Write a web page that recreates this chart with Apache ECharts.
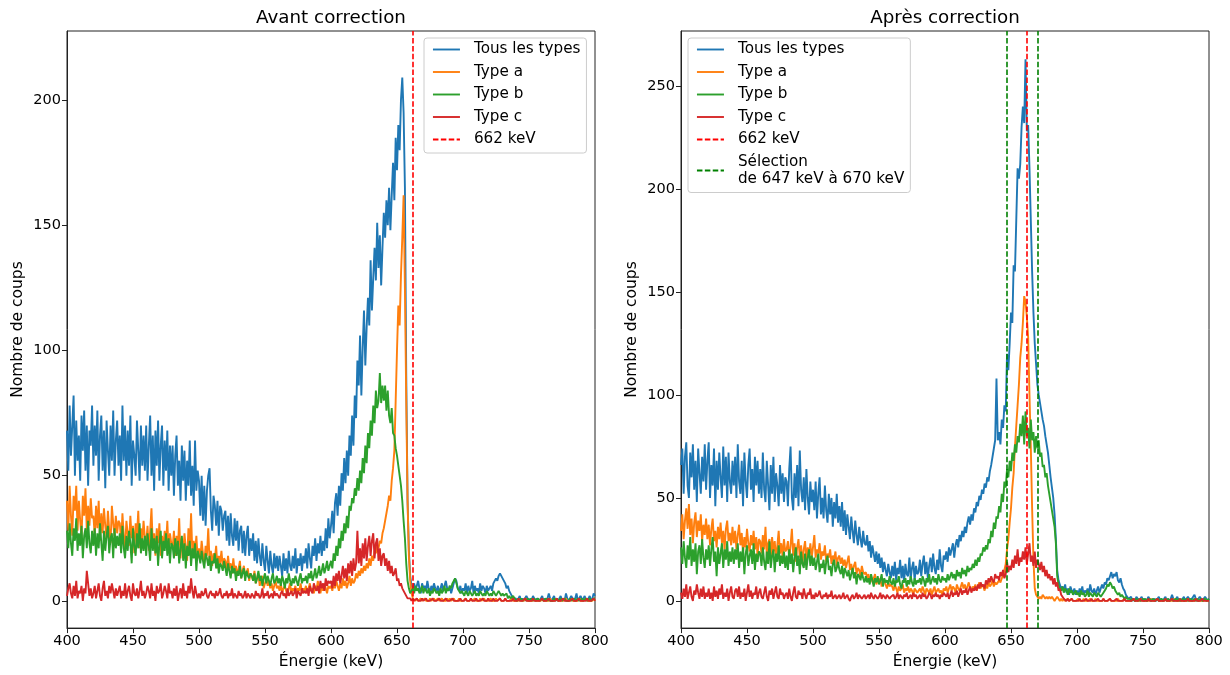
<!DOCTYPE html>
<html>
<head>
<meta charset="utf-8">
<script src="https://cdn.jsdelivr.net/npm/echarts@6/dist/echarts.min.js"></script>
<style>
html, body { margin: 0; padding: 0; background: #ffffff; }
#chart { width: 1230px; height: 675px; }
</style>
</head>
<body>
<div id="chart"></div>
<script>
// Spectra binned in 1 keV steps from 400 keV to 800 keV (401 bins per series)
const E_START = 400;
const E_END = 800;
const X_TICKS_STEP = 50;
const Y_TICKS_AVANT = [0, 50, 100, 150, 200];
const Y_TICKS_APRES = [0, 50, 100, 150, 200, 250];
const E_CS137 = 662;
const SELECTION = [647, 670];

// ---- Avant correction ----
const avantTous = [
  68,52,78,58,70,82,50,72,56,66,48,74,60,76,52,70,46,68,62,78,
  54,70,58,76,48,66,74,52,68,45,72,60,50,70,56,76,50,64,72,54,
  66,48,78,56,70,50,68,54,74,46,64,58,50,72,60,48,70,54,66,52,
  70,48,62,74,50,66,44,68,54,72,48,62,70,46,64,52,68,44,62,50,
  62,42,58,66,46,56,40,62,48,60,40,56,46,64,42,54,38,64,44,52,
  48,34,50,32,46,30,44,50,53,36,28,42,38,30,40,26,38,36,28,34,
  36,24,34,22,35,26,22,33,24,32,20,28,30,19,28,18,26,30,18,25,
  20,27,16,24,15,25,18,14,23,16,12,22,16,11,20,14,11,19,13,18,
  12,18,14,10,19,12,17,11,20,14,12,18,13,21,11,17,14,19,12,18,
  15,21,13,23,17,13,22,18,25,16,23,19,26,18,24,20,29,21,33,25,
  30,36,27,39,43,34,46,38,51,44,57,47,60,50,66,58,74,62,82,73,
  96,86,106,82,101,116,94,109,121,110,136,116,129,141,128,151,133,146,126,141,
  155,145,160,150,165,148,162,175,160,185,172,190,180,200,209,195,165,90,40,20,
  10,6,5,7,4,6,8,5,3,7,5,6,4,8,5,3,6,4,7,5,
  4,6,3,5,7,4,6,8,5,4,6,3,5,7,9,8,5,4,6,3,
  5,4,7,3,6,4,5,8,3,6,4,5,3,7,4,6,5,3,6,4,
  5,6,4,7,8,9,8,10,11,10,9,8,7,5,6,4,3,2,1,1,
  1,0,1,2,0,1,0,1,2,1,0,1,0,2,1,0,1,1,0,1,
  2,0,1,0,1,3,1,0,1,2,0,1,0,1,2,0,1,0,3,1,
  0,1,2,1,0,1,3,0,1,2,1,0,2,1,0,1,2,0,1,3,
  2
];
const avantTypeA = [
  40,28,46,34,26,42,36,46,28,40,32,25,42,34,45,28,38,30,41,33,
  34,26,38,29,40,24,35,27,37,30,25,36,28,23,38,31,26,34,27,32,
  31,23,35,26,21,32,27,22,34,25,30,19,31,26,36,21,29,24,32,25,
  23,30,20,28,37,22,27,18,29,23,31,18,26,21,28,22,32,19,27,23,
  21,28,18,26,20,33,17,25,19,27,21,16,29,20,35,18,24,19,26,17,
  21,17,24,19,15,22,18,29,16,20,14,19,17,22,13,18,15,20,14,17,
  16,12,18,13,15,11,17,12,14,10,13,16,9,12,14,10,11,13,8,11,
  10,8,12,7,9,11,6,8,10,5,7,9,6,8,5,7,4,6,8,5,
  6,4,7,3,5,6,4,2,5,7,3,5,4,6,3,5,4,7,3,5,
  4,6,3,5,7,4,5,3,6,4,8,5,3,6,4,7,5,3,6,5,
  6,4,7,5,8,6,4,7,5,9,6,8,5,7,10,6,9,7,8,11,
  9,12,10,13,11,14,12,15,13,17,14,18,16,20,19,22,21,24,23,27,
  29,32,35,38,42,40,48,53,60,80,100,118,110,130,145,162,125,80,40,18,
  8,3,1,1,0,1,0,0,1,0,0,1,0,0,0,1,0,0,1,0,
  0,1,0,0,1,0,0,0,1,0,1,0,0,1,0,0,0,1,0,0,
  0,0,1,0,0,0,1,0,0,1,0,0,0,1,0,0,1,0,0,0,
  0,1,0,0,0,1,0,0,1,0,0,0,1,0,0,0,0,1,0,0,
  0,0,0,1,0,0,0,0,1,0,0,0,0,0,1,0,0,0,0,0,
  1,0,0,0,0,0,1,0,0,0,0,1,0,0,0,0,0,0,1,0,
  0,0,1,0,0,0,0,0,1,0,0,0,0,1,0,0,0,0,0,1,
  0
];
const avantTypeB = [
  28,21,31,23,18,29,24,33,20,27,22,30,17,26,29,21,32,23,19,28,
  22,29,18,27,21,31,23,16,28,20,26,30,19,25,27,17,29,21,26,22,
  27,19,30,21,17,26,20,28,23,15,29,22,18,27,21,31,19,25,20,26,
  18,27,22,16,29,20,25,19,26,14,23,28,17,24,20,27,18,25,15,23,
  22,17,25,18,24,15,21,26,16,23,13,22,18,24,14,21,17,23,12,20,
  18,15,20,16,13,19,17,14,18,12,16,15,19,13,17,11,15,14,12,16,
  13,10,15,12,9,14,11,13,8,12,10,14,9,11,13,8,12,10,9,11,
  10,8,11,7,9,12,8,10,6,9,11,7,10,8,6,9,11,7,8,10,
  7,9,6,10,8,5,9,7,11,8,6,9,7,10,8,6,9,11,7,9,
  8,10,7,11,9,12,8,10,13,9,11,14,10,12,15,11,13,16,12,14,
  16,13,19,16,22,18,25,21,28,24,31,27,34,29,38,36,41,39,45,42,
  49,44,52,47,57,51,62,55,67,61,72,66,78,71,84,77,80,91,79,86,
  80,86,76,84,74,71,77,67,66,61,58,54,50,46,40,32,25,15,8,5,
  3,4,5,3,6,4,5,3,4,6,3,5,4,3,5,2,4,3,5,4,
  3,4,2,5,3,4,6,3,5,4,6,5,7,8,9,7,5,4,3,4,
  3,2,4,3,2,4,3,2,3,4,2,3,2,4,3,2,3,2,4,3,
  2,3,2,4,3,2,3,4,3,2,3,2,2,3,1,2,1,1,2,1,
  1,0,1,0,1,0,0,1,0,1,0,0,1,0,1,0,0,1,0,0,
  1,0,0,1,0,1,0,0,0,1,0,1,0,0,1,0,0,1,0,0,
  0,1,0,0,1,0,0,1,0,0,1,0,0,1,0,0,1,0,0,1,
  1
];
const avantTypeC = [
  2,5,7,3,1,6,2,8,1,4,3,6,0,5,3,12,7,2,5,1,
  3,6,1,4,7,2,0,5,8,2,4,1,6,3,7,4,1,5,2,4,
  6,1,4,2,7,1,4,6,2,0,7,3,2,5,1,4,8,2,4,1,
  3,6,4,1,7,2,4,0,6,3,4,7,1,3,6,4,1,7,3,4,
  1,5,2,6,0,3,5,1,7,2,4,1,6,3,9,4,1,6,3,1,
  3,1,4,2,3,5,2,1,3,4,2,3,1,4,2,3,5,2,1,3,
  2,4,1,3,2,5,1,3,2,1,4,2,3,1,2,4,1,3,2,1,
  3,2,1,4,2,3,1,2,5,1,3,2,4,1,2,3,1,4,2,3,
  2,1,3,4,2,3,1,5,2,3,4,2,3,5,1,4,3,2,5,3,
  4,3,5,2,6,4,3,7,5,4,6,3,8,5,7,4,9,6,8,7,
  8,5,10,6,11,8,12,7,10,14,9,13,8,15,11,16,10,17,12,15,
  28,15,21,14,23,17,25,16,22,26,18,24,27,17,23,25,16,21,14,18,
  19,14,17,12,16,11,14,10,11,13,8,9,6,7,5,4,3,2,1,1,
  1,0,1,0,0,1,0,0,0,1,0,0,1,0,0,0,0,1,0,0,
  0,0,1,0,0,0,0,1,0,0,0,0,1,0,0,0,0,0,1,0,
  0,0,1,0,0,0,1,0,0,0,1,0,0,0,0,1,0,0,0,1,
  0,0,0,1,0,0,0,0,1,0,0,0,1,0,0,0,0,0,1,0,
  0,0,1,0,0,0,0,1,0,0,0,0,0,1,0,0,0,0,0,0,
  1,0,0,0,0,1,0,0,0,0,0,1,0,0,0,0,1,0,0,0,
  0,0,0,1,0,0,0,0,1,0,0,0,0,0,1,0,0,0,0,1,
  0
];

// ---- Après correction ----
const apresTous = [
  66,74,52,70,77,56,50,72,60,76,54,68,48,74,62,52,70,58,76,54,
  68,77,50,66,56,74,46,68,54,72,60,50,75,56,70,48,72,58,52,68,
  56,70,50,76,58,52,68,46,72,58,50,66,74,54,64,48,70,56,68,52,
  64,50,72,54,48,68,56,44,66,52,70,48,62,56,46,66,52,62,48,60,
  58,46,64,75,50,44,62,50,66,46,73,54,48,60,44,64,50,42,58,48,
  54,44,58,40,52,60,42,50,40,56,44,38,52,42,50,36,48,40,52,38,
  46,36,48,34,44,32,42,36,30,41,34,28,39,32,27,36,30,26,34,28,
  27,32,24,29,21,27,23,19,24,18,23,16,21,14,19,15,12,18,14,11,
  17,12,19,10,16,13,20,11,17,9,18,13,12,21,11,16,19,10,17,13,
  14,20,12,18,22,13,19,11,17,21,14,23,16,13,20,15,25,17,14,22,
  20,24,19,26,22,25,28,21,27,30,26,32,29,34,31,36,33,38,41,37,
  42,39,45,43,48,46,51,49,54,52,57,55,60,58,63,66,70,74,78,108,
  78,82,76,88,84,95,92,120,112,125,140,135,163,160,185,210,205,212,230,240,
  232,263,228,231,210,185,160,140,125,115,105,100,96,92,88,85,80,76,72,66,
  60,55,50,42,30,15,10,8,6,7,5,8,4,6,3,7,5,4,6,3,
  5,3,6,4,7,3,5,4,6,3,8,5,4,6,3,5,7,4,6,8,
  6,9,8,11,10,12,14,11,13,12,14,10,9,11,8,6,5,3,2,1,
  1,2,0,1,0,2,1,0,1,2,0,1,1,0,2,1,0,1,0,1,
  0,1,2,0,1,0,1,2,0,1,0,1,3,1,0,1,2,0,1,0,
  1,2,0,1,2,1,0,1,2,3,1,0,1,2,1,0,1,2,1,0,
  1
];
const apresTypeA = [
  34,42,30,39,45,35,47,32,40,28,38,43,31,39,34,42,29,37,32,40,
  30,37,27,35,40,29,34,26,36,30,38,28,34,25,35,39,29,33,27,36,
  28,34,25,32,37,27,33,23,31,26,35,28,24,32,27,34,25,31,22,30,
  29,23,32,25,36,22,28,30,21,31,24,29,20,27,34,23,28,21,30,24,
  25,29,20,27,35,22,28,19,26,30,21,27,18,25,29,20,26,22,28,21,
  26,32,21,25,23,28,20,24,22,27,19,23,21,25,18,22,20,24,17,21,
  22,18,21,17,20,16,19,22,15,18,14,17,19,13,16,15,12,17,14,13,
  14,11,13,10,12,9,11,13,8,10,9,11,7,9,10,8,6,9,7,8,
  7,5,8,6,4,7,5,6,8,4,6,5,7,4,6,5,3,6,5,4,
  5,6,4,7,5,3,6,5,4,6,3,5,7,4,5,6,4,5,3,6,
  5,7,4,6,8,5,7,6,4,8,6,5,7,9,6,8,5,7,9,6,
  5,7,6,8,5,7,9,6,8,7,5,8,6,9,7,8,10,7,9,8,
  9,10,9,11,12,15,18,25,30,38,45,55,62,75,85,95,105,118,125,135,
  148,145,138,128,100,75,45,20,6,3,2,1,2,1,3,2,1,2,1,2,
  1,2,1,0,1,2,1,0,1,0,1,0,0,1,0,0,1,0,0,0,
  0,1,0,0,0,1,0,0,0,0,1,0,0,0,1,0,0,0,0,0,
  1,0,0,0,0,1,0,0,0,0,0,1,0,0,0,0,1,0,0,0,
  0,0,0,1,0,0,0,0,0,1,0,0,0,0,0,0,1,0,0,0,
  0,1,0,0,0,0,0,1,0,0,0,0,0,0,1,0,0,0,0,0,
  0,0,0,0,1,0,0,0,0,0,0,1,0,0,0,0,0,1,0,0,
  0
];
const apresTypeB = [
  26,18,29,21,16,27,20,31,17,25,19,28,13,24,27,18,30,21,16,25,
  20,27,17,25,31,19,24,12,26,18,23,28,16,25,20,29,17,24,19,26,
  18,25,20,28,16,24,19,26,13,23,27,17,22,25,18,28,15,23,19,24,
  23,17,26,19,15,24,18,29,16,22,25,14,23,19,27,17,22,18,24,16,
  22,15,25,18,23,14,21,26,17,22,13,24,18,16,23,15,21,25,17,22,
  17,21,15,19,23,14,18,16,20,13,19,22,15,17,12,18,20,14,16,19,
  15,13,17,11,16,14,12,15,10,13,16,11,14,8,13,12,10,14,11,9,
  12,9,11,8,13,10,7,11,9,12,8,10,13,7,11,9,10,8,12,9,
  8,11,7,10,9,12,8,6,10,9,11,7,10,8,12,9,7,11,8,10,
  9,11,8,12,10,7,11,9,13,8,10,12,9,11,8,13,10,9,12,10,
  11,9,13,10,12,14,11,13,10,15,12,14,11,16,13,15,12,17,14,16,
  15,18,16,20,17,21,19,23,22,26,24,27,25,30,28,34,31,38,35,41,
  40,46,43,52,48,58,55,64,60,68,63,72,68,76,72,80,77,86,80,90,
  76,92,80,84,74,88,78,82,72,80,74,78,70,72,65,66,60,62,56,52,
  48,44,40,36,28,12,8,6,5,7,4,6,5,3,6,4,5,3,4,5,
  3,4,2,5,3,4,2,3,5,2,4,3,2,4,3,2,4,3,2,3,
  4,5,6,8,7,9,8,6,7,5,4,3,4,2,3,2,1,2,1,1,
  1,0,1,1,0,1,0,1,0,0,1,0,1,0,0,1,0,0,1,0,
  0,1,0,0,1,0,0,1,0,1,0,0,1,0,0,1,0,1,0,0,
  1,0,0,1,0,0,1,0,0,1,0,1,0,0,1,0,0,1,0,0,
  1
];
const apresTypeC = [
  4,1,6,2,8,1,4,7,2,0,5,3,8,4,1,6,2,7,1,4,
  2,6,1,4,0,7,2,5,1,6,3,8,1,4,2,6,0,4,7,2,
  1,5,6,2,7,1,4,2,6,0,4,8,2,5,1,4,3,7,1,4,
  6,2,1,4,7,2,0,5,3,6,1,4,7,2,1,6,3,4,1,3,
  4,1,6,2,0,4,7,2,1,5,3,4,1,6,3,1,4,3,6,1,
  3,1,4,2,3,5,2,1,3,2,4,1,3,2,5,1,2,3,1,2,
  3,1,2,4,1,2,3,1,0,2,3,1,2,4,1,3,2,1,2,3,
  1,2,3,1,4,2,1,3,2,1,2,4,1,3,2,1,3,2,1,2,
  2,3,1,2,4,1,3,2,1,3,2,4,1,2,3,1,4,2,3,1,
  2,3,1,4,2,3,1,2,4,3,1,3,2,4,2,3,1,3,2,4,
  3,2,4,1,3,5,2,4,3,5,2,4,6,3,5,4,6,3,5,7,
  4,6,5,7,5,8,6,9,7,8,6,10,8,11,9,12,10,9,13,11,
  12,10,14,12,15,11,13,19,14,17,15,20,16,22,18,25,17,21,19,24,
  20,26,18,23,28,19,22,17,24,16,20,18,15,19,14,17,12,15,11,13,
  10,12,8,11,7,9,5,6,3,2,1,1,0,1,0,0,1,0,0,0,
  0,0,1,0,0,0,0,1,0,0,0,1,0,0,0,0,1,0,0,0,
  1,0,0,0,0,1,0,0,0,0,1,0,0,0,0,0,1,0,0,0,
  0,0,0,1,0,0,0,0,1,0,0,0,0,0,1,0,0,0,0,0,
  0,1,0,0,0,0,0,1,0,0,0,0,1,0,0,0,0,0,1,0,
  0,0,0,0,1,0,0,0,0,0,1,0,0,0,0,1,0,0,0,0,
  0
];

const FONT = 'DejaVu Sans';
const COLORS = { tous: '#1f77b4', a: '#ff7f0e', b: '#2ca02c', c: '#d62728' };
const NAME_662 = '662 keV';
const NAME_SEL = 'Sélection\nde 647 keV à 670 keV';
const SPECTRUM_NAMES = ['Tous les types', 'Type a', 'Type b', 'Type c'];
const LINE_W = 1.9;

// Pair each count with the energy of its bin
function toPairs(counts) {
  return counts.map((c, i) => [E_START + i, c]);
}

function spectrum(name, counts, color, idx) {
  return {
    type: 'line', name, xAxisIndex: idx, yAxisIndex: idx,
    data: toPairs(counts),
    showSymbol: false, symbol: 'none',
    lineStyle: { width: LINE_W, color },
    itemStyle: { color },
    emphasis: { disabled: true },
    animation: false
  };
}

const DASH = [5.5, 2.4];
function verticalLines(name, energies, color, idx) {
  return {
    type: 'line', name, xAxisIndex: idx, yAxisIndex: idx,
    data: [], symbol: 'none',
    lineStyle: { width: LINE_W, color, type: DASH },
    itemStyle: { color },
    animation: false,
    markLine: {
      silent: true, symbol: ['none', 'none'], animation: false,
      label: { show: false },
      lineStyle: { width: 1.6, color, type: DASH },
      data: energies.map(e => ({ xAxis: e }))
    }
  };
}

function xAxisFor(idx) {
  return {
    type: 'value', gridIndex: idx, min: E_START, max: E_END, interval: X_TICKS_STEP,
    name: 'Énergie (keV)', nameLocation: 'middle', nameGap: 25,
    nameTextStyle: { fontFamily: FONT, fontSize: 15.5, color: '#000' },
    axisLine: { show: true, onZero: false, lineStyle: { color: '#222', width: 1 } },
    axisTick: { show: true, length: 5, lineStyle: { color: '#222' } },
    axisLabel: { color: '#000', fontFamily: FONT, fontSize: 14.5, margin: 6 },
    splitLine: { show: false }
  };
}

function yAxisFor(idx, min, max, ticks) {
  return {
    type: 'value', gridIndex: idx, min, max,
    name: 'Nombre de coups', nameLocation: 'middle', nameGap: 41,
    nameTextStyle: { fontFamily: FONT, fontSize: 15.5, color: '#000' },
    axisLine: { show: true, onZero: false, lineStyle: { color: '#222', width: 1 } },
    axisTick: { show: true, length: 5, customValues: ticks, lineStyle: { color: '#222' } },
    axisLabel: { color: '#000', fontFamily: FONT, fontSize: 14.5, margin: 6, customValues: ticks },
    splitLine: { show: false }
  };
}

function legendAt(left, names) {
  return {
    left, top: 38, orient: 'vertical',
    data: names,
    selectedMode: false,
    itemWidth: 27, itemHeight: 12, itemGap: 5.5,
    padding: [3, 6, 5, 8],
    backgroundColor: 'rgba(255,255,255,0.85)',
    borderColor: '#cccccc', borderWidth: 1, borderRadius: 3,
    itemStyle: { opacity: 0 },
    lineStyle: { width: 1.9 },
    textStyle: { fontFamily: FONT, fontSize: 15.2, color: '#000', lineHeight: 17, padding: [0, 0, 0, 9] }
  };
}

const chart = echarts.init(document.getElementById('chart'), null, { renderer: 'canvas' });
chart.setOption({
  backgroundColor: '#ffffff',
  animation: false,
  graphic: [
    { type: 'text', x: 331, y: 18, style: { text: 'Avant correction', fontFamily: FONT, fontSize: 18.3, fill: '#000', align: 'center', verticalAlign: 'middle' } },
    { type: 'text', x: 945, y: 18, style: { text: 'Après correction', fontFamily: FONT, fontSize: 18.3, fill: '#000', align: 'center', verticalAlign: 'middle' } }
  ],
  grid: [
    { left: 67, top: 31, width: 528, height: 599, show: true, borderColor: '#222', borderWidth: 1, backgroundColor: '#fff' },
    { left: 681, top: 31, width: 528, height: 599, show: true, borderColor: '#222', borderWidth: 1, backgroundColor: '#fff' }
  ],
  xAxis: [xAxisFor(0), xAxisFor(1)],
  yAxis: [
    yAxisFor(0, -10.87, 227.6, Y_TICKS_AVANT),
    yAxisFor(1, -13.2, 276.7, Y_TICKS_APRES)
  ],
  legend: [
    legendAt(424, [...SPECTRUM_NAMES, NAME_662]),
    legendAt(688, [...SPECTRUM_NAMES, NAME_662, NAME_SEL])
  ],
  series: [
    spectrum('Tous les types', avantTous, COLORS.tous, 0),
    spectrum('Type a', avantTypeA, COLORS.a, 0),
    spectrum('Type b', avantTypeB, COLORS.b, 0),
    spectrum('Type c', avantTypeC, COLORS.c, 0),
    verticalLines(NAME_662, [E_CS137], '#ff0000', 0),
    spectrum('Tous les types', apresTous, COLORS.tous, 1),
    spectrum('Type a', apresTypeA, COLORS.a, 1),
    spectrum('Type b', apresTypeB, COLORS.b, 1),
    spectrum('Type c', apresTypeC, COLORS.c, 1),
    verticalLines(NAME_SEL, SELECTION, '#008000', 1),
    verticalLines(NAME_662, [E_CS137], '#ff0000', 1)
  ]
});
</script>
</body>
</html>
